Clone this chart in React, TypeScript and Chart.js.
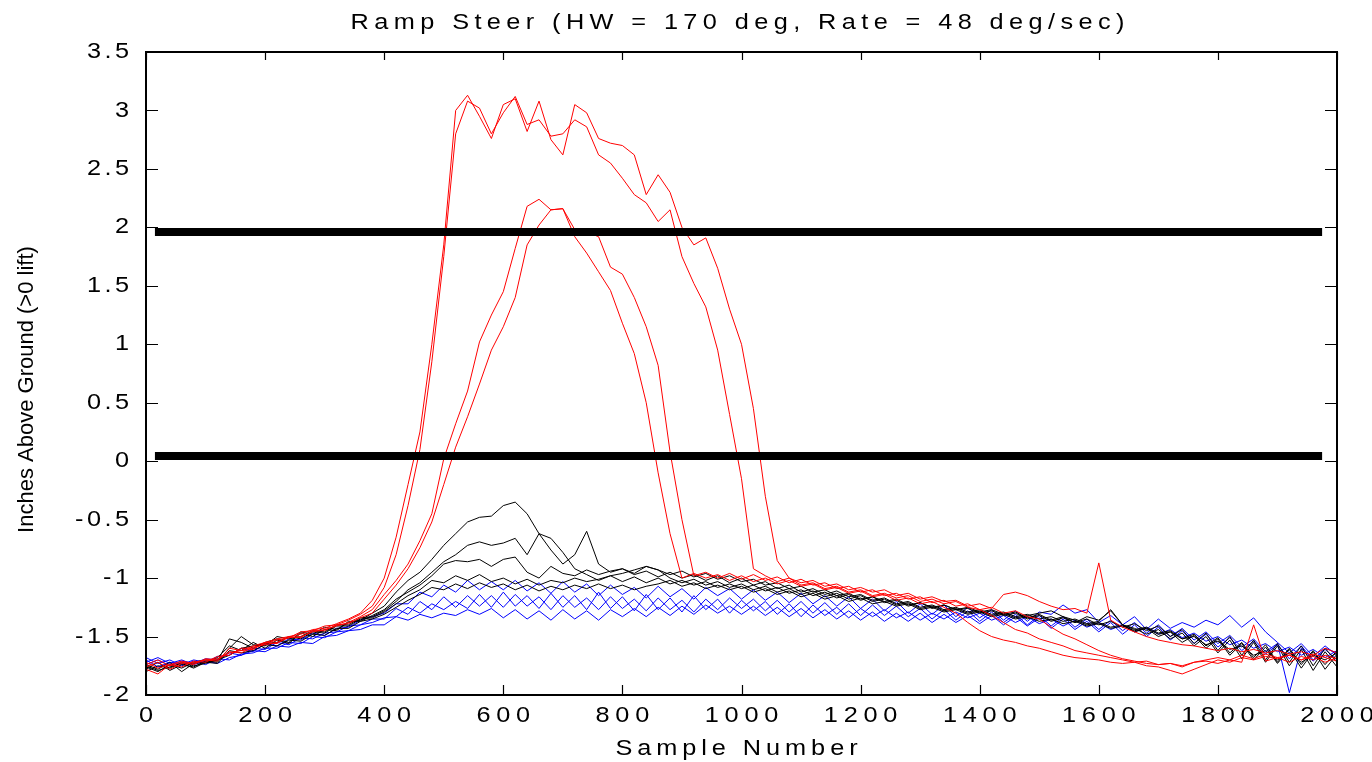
import React, { useEffect, useRef } from 'react';
import { Chart, registerables } from 'chart.js';

Chart.register(...registerables);

// ---------- data ----------
const SAMPLES = [
  0, 20, 40, 60, 80, 100, 120, 140, 160, 180,
  200, 220, 240, 260, 280, 300, 320, 340, 360, 380,
  400, 420, 440, 460, 480, 500, 520, 540, 560, 580,
  600, 620, 640, 660, 680, 700, 720, 740, 760, 780,
  800, 820, 840, 860, 880, 900, 920, 940, 960, 980,
  1000, 1020, 1040, 1060, 1080, 1100, 1120, 1140, 1160, 1180,
  1200, 1220, 1240, 1260, 1280, 1300, 1320, 1340, 1360, 1380,
  1400, 1420, 1440, 1460, 1480, 1500, 1520, 1540, 1560, 1580,
  1600, 1620, 1640, 1660, 1680, 1700, 1720, 1740, 1760, 1780,
  1800, 1820, 1840, 1860, 1880, 1900, 1920, 1940, 1960, 1980,
  2000,
];

const RED_1 = [
  -1.76, -1.72, -1.78, -1.73, -1.72, -1.70, -1.69, -1.64, -1.62, -1.58,
  -1.55, -1.52, -1.50, -1.48, -1.44, -1.43, -1.39, -1.35, -1.30, -1.19,
  -1.00, -0.65, -0.20, 0.25, 1.00, 1.85, 3.00, 3.13, 2.95, 2.76,
  3.05, 3.10, 2.82, 3.08, 2.75, 2.62, 3.05, 2.98, 2.76, 2.72,
  2.70, 2.62, 2.28, 2.45, 2.30, 2.00, 1.85, 1.91, 1.65, 1.30,
  1.00, 0.45, -0.30, -0.85, -1.00, -1.04, -1.02, -1.07, -1.05, -1.10,
  -1.08, -1.12, -1.10, -1.15, -1.13, -1.18, -1.16, -1.20, -1.19, -1.24,
  -1.22, -1.26, -1.14, -1.12, -1.15, -1.20, -1.24, -1.27, -1.26, -1.30,
  -0.87, -1.36, -1.42, -1.46, -1.50, -1.53, -1.55, -1.57, -1.58, -1.60,
  -1.62, -1.60, -1.63, -1.61, -1.64, -1.62, -1.65, -1.63, -1.66, -1.60,
  -1.64,
];
const RED_2 = [
  -1.72, -1.77, -1.74, -1.76, -1.71, -1.72, -1.67, -1.66, -1.60, -1.60,
  -1.56, -1.53, -1.51, -1.46, -1.45, -1.41, -1.40, -1.36, -1.31, -1.24,
  -1.08, -0.80, -0.38, 0.10, 0.85, 1.75, 2.80, 3.08, 3.02, 2.80,
  2.98, 3.12, 2.88, 2.92, 2.78, 2.80, 2.92, 2.86, 2.62, 2.55,
  2.42, 2.28, 2.21, 2.05, 2.15, 1.75, 1.52, 1.32, 0.95, 0.40,
  -0.15, -0.92, -0.98, -1.03, -1.00, -1.06, -1.04, -1.09, -1.07, -1.12,
  -1.10, -1.15, -1.13, -1.17, -1.15, -1.20, -1.18, -1.22, -1.20, -1.25,
  -1.27, -1.32, -1.38, -1.44, -1.47, -1.52, -1.55, -1.58, -1.62, -1.64,
  -1.66, -1.68, -1.70, -1.72, -1.71, -1.74, -1.73, -1.76, -1.72, -1.70,
  -1.68, -1.70, -1.66, -1.69, -1.65, -1.68, -1.66, -1.70, -1.65, -1.68,
  -1.71,
];
const RED_3 = [
  -1.74, -1.70, -1.75, -1.72, -1.74, -1.69, -1.70, -1.63, -1.64, -1.59,
  -1.57, -1.55, -1.51, -1.50, -1.46, -1.44, -1.41, -1.38, -1.33, -1.27,
  -1.14, -1.02, -0.88, -0.68, -0.45, 0.02, 0.32, 0.60, 1.02, 1.25,
  1.45, 1.82, 2.18, 2.24, 2.15, 2.16, 1.92, 1.78, 1.62, 1.46,
  1.18, 0.92, 0.50, -0.10, -0.62, -1.00, -0.96, -1.00, -0.97, -1.02,
  -0.98, -1.03, -1.00, -1.05, -1.02, -1.07, -1.05, -1.10, -1.08, -1.13,
  -1.11, -1.16, -1.14, -1.19, -1.17, -1.22, -1.20, -1.25, -1.30, -1.38,
  -1.45, -1.50, -1.53, -1.55, -1.58, -1.60, -1.63, -1.66, -1.68, -1.69,
  -1.70, -1.72, -1.73, -1.72, -1.75, -1.76, -1.79, -1.82, -1.78, -1.74,
  -1.70, -1.72, -1.68, -1.70, -1.67, -1.69, -1.66, -1.70, -1.67, -1.72,
  -1.68,
];
const RED_4 = [
  -1.78, -1.82, -1.74, -1.71, -1.73, -1.70, -1.71, -1.60, -1.62, -1.61,
  -1.55, -1.56, -1.50, -1.51, -1.45, -1.45, -1.40, -1.39, -1.34, -1.30,
  -1.18, -1.06, -0.92, -0.74, -0.52, -0.20, 0.12, 0.38, 0.66, 0.95,
  1.15, 1.40, 1.85, 2.02, 2.15, 2.16, 1.98, 1.96, 1.92, 1.66,
  1.60, 1.40, 1.15, 0.82, 0.08, -0.50, -0.98, -0.95, -1.00, -0.96,
  -1.01, -0.97, -1.02, -0.99, -1.04, -1.01, -1.06, -1.04, -1.09, -1.07,
  -1.12, -1.10, -1.15, -1.13, -1.18, -1.16, -1.21, -1.19, -1.24, -1.22,
  -1.27, -1.25, -1.30, -1.28, -1.33, -1.35, -1.42, -1.48, -1.52, -1.57,
  -1.62, -1.66, -1.69, -1.71, -1.73, -1.74, -1.73, -1.75, -1.72, -1.71,
  -1.73, -1.70, -1.72, -1.40, -1.71, -1.68, -1.72, -1.67, -1.70, -1.66,
  -1.69,
];

const BLACK_1 = [
  -1.76, -1.80, -1.74, -1.77, -1.72, -1.70, -1.71, -1.52, -1.55, -1.60,
  -1.55, -1.52, -1.55, -1.46, -1.48, -1.42, -1.44, -1.38, -1.36, -1.30,
  -1.24, -1.12, -1.02, -0.95, -0.84, -0.72, -0.62, -0.52, -0.48, -0.47,
  -0.38, -0.35, -0.45, -0.62, -0.66, -0.78, -0.92, -0.97, -1.02, -0.98,
  -1.03, -0.99, -1.04, -1.00, -1.05, -1.02, -1.06, -1.03, -1.08, -1.05,
  -1.09, -1.06, -1.11, -1.08, -1.13, -1.10, -1.15, -1.12, -1.17, -1.14,
  -1.19, -1.16, -1.21, -1.19, -1.24, -1.21, -1.26, -1.23, -1.27, -1.25,
  -1.29, -1.27, -1.31, -1.29, -1.34, -1.31, -1.36, -1.33, -1.38, -1.35,
  -1.40, -1.37, -1.42, -1.39, -1.45, -1.41, -1.50, -1.44, -1.56, -1.47,
  -1.62, -1.50, -1.66, -1.53, -1.70, -1.56, -1.72, -1.58, -1.75, -1.60,
  -1.72,
];
const BLACK_2 = [
  -1.78, -1.72, -1.79, -1.74, -1.76, -1.71, -1.72, -1.60, -1.50, -1.57,
  -1.58, -1.50, -1.52, -1.50, -1.45, -1.46, -1.40, -1.40, -1.34, -1.33,
  -1.28, -1.20, -1.10, -1.04, -0.95, -0.86, -0.80, -0.72, -0.69, -0.72,
  -0.70, -0.66, -0.80, -0.62, -0.76, -0.88, -0.80, -0.60, -0.88, -0.95,
  -0.92, -0.97, -0.94, -0.99, -0.95, -1.00, -0.97, -1.02, -0.98, -1.04,
  -1.00, -1.06, -1.03, -1.09, -1.06, -1.12, -1.09, -1.14, -1.11, -1.16,
  -1.14, -1.19, -1.17, -1.22, -1.20, -1.25, -1.23, -1.27, -1.25, -1.29,
  -1.27, -1.31, -1.29, -1.33, -1.31, -1.35, -1.33, -1.37, -1.35, -1.39,
  -1.37, -1.27, -1.40, -1.44, -1.42, -1.47, -1.45, -1.52, -1.48, -1.58,
  -1.51, -1.64, -1.55, -1.68, -1.57, -1.72, -1.60, -1.74, -1.62, -1.78,
  -1.65,
];
const BLACK_3 = [
  -1.74, -1.78, -1.72, -1.80, -1.73, -1.72, -1.68, -1.58, -1.62, -1.55,
  -1.60, -1.53, -1.56, -1.47, -1.50, -1.44, -1.45, -1.37, -1.37, -1.32,
  -1.27, -1.18, -1.12, -1.06, -0.98, -0.88, -0.85, -0.86, -0.84, -0.90,
  -0.84, -0.82, -0.95, -1.00, -0.90, -0.96, -0.98, -0.93, -0.97, -0.94,
  -0.92, -0.96, -0.90, -0.93, -0.97, -0.94, -0.99, -0.96, -1.01, -0.98,
  -1.03, -1.01, -1.06, -1.04, -1.09, -1.07, -1.12, -1.10, -1.15, -1.13,
  -1.18, -1.16, -1.20, -1.18, -1.23, -1.21, -1.25, -1.23, -1.27, -1.26,
  -1.30, -1.28, -1.32, -1.30, -1.35, -1.32, -1.37, -1.34, -1.38, -1.33,
  -1.36, -1.28, -1.40, -1.43, -1.48, -1.44, -1.52, -1.47, -1.58, -1.50,
  -1.64, -1.53, -1.69, -1.55, -1.72, -1.58, -1.75, -1.61, -1.79, -1.63,
  -1.76,
];
const BLACK_4 = [
  -1.80, -1.75, -1.77, -1.72, -1.75, -1.73, -1.70, -1.66, -1.60, -1.58,
  -1.56, -1.55, -1.50, -1.52, -1.46, -1.47, -1.41, -1.41, -1.35, -1.34,
  -1.29, -1.22, -1.15, -1.10, -1.02, -1.04, -0.98, -1.02, -0.97, -1.03,
  -1.00, -1.05, -1.01, -1.06, -1.02, -1.04, -1.00, -1.03, -1.01, -0.98,
  -0.96, -0.93, -0.90, -0.93, -1.00, -1.04, -1.01, -1.06, -1.03, -1.08,
  -1.05, -1.10, -1.07, -1.12, -1.09, -1.14, -1.11, -1.16, -1.13, -1.18,
  -1.15, -1.20, -1.18, -1.23, -1.21, -1.26, -1.24, -1.28, -1.26, -1.30,
  -1.28, -1.32, -1.30, -1.34, -1.32, -1.30, -1.28, -1.33, -1.36, -1.40,
  -1.38, -1.42, -1.40, -1.46, -1.43, -1.50, -1.46, -1.55, -1.49, -1.60,
  -1.52, -1.66, -1.56, -1.70, -1.59, -1.73, -1.61, -1.77, -1.63, -1.74,
  -1.62,
];
const BLACK_5 = [
  -1.75, -1.79, -1.76, -1.73, -1.77, -1.72, -1.73, -1.62, -1.64, -1.62,
  -1.57, -1.58, -1.53, -1.54, -1.48, -1.49, -1.43, -1.43, -1.37, -1.35,
  -1.31, -1.25, -1.19, -1.14, -1.08, -1.10, -1.05, -1.09, -1.04, -1.08,
  -1.05, -1.10, -1.06, -1.11, -1.07, -1.10, -1.06, -1.09, -1.05, -1.09,
  -1.06, -1.10, -1.07, -1.05, -1.02, -1.07, -1.04, -1.09, -1.06, -1.10,
  -1.07, -1.12, -1.09, -1.14, -1.11, -1.16, -1.13, -1.18, -1.15, -1.20,
  -1.17, -1.22, -1.20, -1.24, -1.22, -1.27, -1.25, -1.29, -1.27, -1.31,
  -1.29, -1.33, -1.31, -1.35, -1.33, -1.37, -1.35, -1.39, -1.37, -1.41,
  -1.39, -1.43, -1.41, -1.45, -1.43, -1.48, -1.46, -1.52, -1.50, -1.57,
  -1.54, -1.61, -1.58, -1.66, -1.62, -1.70, -1.64, -1.72, -1.66, -1.70,
  -1.64,
];

const BLUE_1 = [
  -1.70, -1.76, -1.72, -1.74, -1.70, -1.72, -1.67, -1.66, -1.60, -1.63,
  -1.56, -1.58, -1.52, -1.53, -1.47, -1.49, -1.43, -1.42, -1.36, -1.33,
  -1.30, -1.22, -1.22, -1.12, -1.16, -1.06, -1.12, -1.02, -1.10, -1.03,
  -1.10, -1.02, -1.11, -1.04, -1.13, -1.03, -1.12, -1.05, -1.15, -1.06,
  -1.14, -1.08, -1.17, -1.07, -1.16, -1.09, -1.18, -1.08, -1.15, -1.09,
  -1.18, -1.10, -1.19, -1.12, -1.21, -1.13, -1.22, -1.15, -1.24, -1.16,
  -1.26, -1.18, -1.28, -1.20, -1.30, -1.22, -1.31, -1.23, -1.33, -1.25,
  -1.34, -1.27, -1.36, -1.28, -1.37, -1.29, -1.31, -1.23, -1.30, -1.27,
  -1.38, -1.32, -1.40, -1.33, -1.44, -1.35, -1.43, -1.38, -1.42, -1.36,
  -1.40, -1.32, -1.42, -1.34, -1.46, -1.55, -1.64, -1.56, -1.67, -1.58,
  -1.66,
];
const BLUE_2 = [
  -1.74, -1.70, -1.75, -1.71, -1.73, -1.69, -1.70, -1.64, -1.66, -1.60,
  -1.61, -1.55, -1.57, -1.51, -1.52, -1.47, -1.46, -1.41, -1.40, -1.35,
  -1.35, -1.26, -1.31, -1.20, -1.27, -1.16, -1.25, -1.15, -1.24, -1.15,
  -1.25, -1.14, -1.24, -1.16, -1.27, -1.15, -1.25, -1.17, -1.27, -1.16,
  -1.26, -1.18, -1.28, -1.17, -1.27, -1.19, -1.29, -1.18, -1.27, -1.17,
  -1.26, -1.18, -1.28, -1.19, -1.29, -1.20, -1.30, -1.21, -1.31, -1.22,
  -1.32, -1.23, -1.32, -1.24, -1.33, -1.26, -1.35, -1.27, -1.36, -1.28,
  -1.37, -1.29, -1.38, -1.31, -1.40, -1.32, -1.41, -1.33, -1.42, -1.35,
  -1.44, -1.36, -1.45, -1.38, -1.47, -1.40, -1.50, -1.43, -1.53, -1.46,
  -1.56, -1.49, -1.59, -1.52, -1.63, -1.56, -1.98, -1.60, -1.71, -1.61,
  -1.70,
];
const BLUE_3 = [
  -1.72, -1.68, -1.73, -1.70, -1.74, -1.71, -1.73, -1.68, -1.66, -1.62,
  -1.63, -1.58, -1.59, -1.55, -1.56, -1.50, -1.49, -1.45, -1.44, -1.40,
  -1.40, -1.33, -1.36, -1.31, -1.34, -1.30, -1.32, -1.27, -1.31, -1.26,
  -1.34, -1.27, -1.35, -1.28, -1.36, -1.27, -1.35, -1.28, -1.36, -1.27,
  -1.33, -1.26, -1.33, -1.25, -1.32, -1.24, -1.31, -1.23, -1.30, -1.24,
  -1.31, -1.24, -1.32, -1.25, -1.33, -1.26, -1.34, -1.27, -1.35, -1.28,
  -1.36, -1.29, -1.37, -1.30, -1.37, -1.30, -1.38, -1.31, -1.38, -1.32,
  -1.39, -1.32, -1.40, -1.33, -1.41, -1.34, -1.43, -1.35, -1.44, -1.37,
  -1.46, -1.38, -1.48, -1.40, -1.50, -1.42, -1.53, -1.45, -1.56, -1.48,
  -1.59, -1.51, -1.62, -1.54, -1.65, -1.57, -1.69, -1.58, -1.70, -1.60,
  -1.64,
];
const BLUE_4 = [
  -1.68, -1.73, -1.70, -1.75, -1.71, -1.74, -1.69, -1.70, -1.65, -1.64,
  -1.60, -1.60, -1.55, -1.56, -1.50, -1.51, -1.46, -1.45, -1.40, -1.38,
  -1.34, -1.33, -1.25, -1.30, -1.22, -1.27, -1.20, -1.26, -1.14, -1.25,
  -1.12, -1.24, -1.15, -1.26, -1.13, -1.25, -1.15, -1.27, -1.12, -1.26,
  -1.16, -1.28, -1.14, -1.27, -1.17, -1.29, -1.15, -1.27, -1.18, -1.30,
  -1.19, -1.28, -1.20, -1.31, -1.22, -1.33, -1.23, -1.32, -1.25, -1.34,
  -1.26, -1.33, -1.27, -1.34, -1.29, -1.36, -1.30, -1.35, -1.29, -1.34,
  -1.30, -1.36, -1.32, -1.38, -1.33, -1.39, -1.35, -1.41, -1.36, -1.42,
  -1.38, -1.44, -1.40, -1.46, -1.42, -1.48, -1.44, -1.51, -1.47, -1.54,
  -1.50, -1.57, -1.53, -1.60, -1.56, -1.63, -1.59, -1.66, -1.61, -1.68,
  -1.62,
];

// two thick reference levels and the span they cover
const REF_LEVELS = [1.96, 0.045];
const REF_SPAN = [15, 1975];

const X_TICKS = [0, 200, 400, 600, 800, 1000, 1200, 1400, 1600, 1800, 2000];
const Y_TICKS = [-2, -1.5, -1, -0.5, 0, 0.5, 1, 1.5, 2, 2.5, 3, 3.5];
const Y_TICK_LABELS = ['-2', '-1.5', '-1', '-0.5', '0', '0.5', '1', '1.5', '2', '2.5', '3', '3.5'];

const TITLE = 'Ramp Steer (HW = 170 deg, Rate = 48 deg/sec)';
const X_TITLE = 'Sample Number';
const Y_TITLE = 'Inches Above Ground (>0 lift)';

const RED_SERIES = [RED_1, RED_2, RED_3, RED_4];
const BLACK_SERIES = [BLACK_1, BLACK_2, BLACK_3, BLACK_4, BLACK_5];
const BLUE_SERIES = [BLUE_1, BLUE_2, BLUE_3, BLUE_4];

const FONT = '"Liberation Sans", Arial, Helvetica, sans-serif';

function drawLabel(
  ctx: CanvasRenderingContext2D,
  text: string,
  x: number,
  y: number,
  size: number,
  spacing: number,
  align: 'left' | 'center' | 'right',
  baseline: CanvasTextBaseline,
  sx = 1.15,
) {
  ctx.save();
  ctx.font = `${size}px ${FONT}`;
  (ctx as any).letterSpacing = `${spacing}px`;
  ctx.textAlign = 'left';
  ctx.textBaseline = baseline;
  const w = (ctx.measureText(text).width - spacing) * sx;
  let left = x;
  if (align === 'center') left = x - w / 2;
  else if (align === 'right') left = x - w;
  ctx.translate(left, y);
  ctx.scale(sx, 1);
  ctx.fillStyle = '#000';
  ctx.fillText(text, 0, 0);
  ctx.restore();
}

const framePlugin = {
  id: 'frame',
  afterDraw(chart: any) {
    const { ctx, chartArea: a } = chart;
    const xs = chart.scales.x;
    const ys = chart.scales.y;
    ctx.save();
    ctx.strokeStyle = '#000';
    ctx.lineWidth = 2;
    ctx.strokeRect(a.left, a.top, a.right - a.left, a.bottom - a.top);

    ctx.lineWidth = 1.2;
    ctx.beginPath();
    X_TICKS.forEach((v) => {
      const px = Math.round(xs.getPixelForValue(v)) + 0.5;
      ctx.moveTo(px, a.bottom);
      ctx.lineTo(px, a.bottom - 10);
      ctx.moveTo(px, a.top);
      ctx.lineTo(px, a.top + 8);
    });
    Y_TICKS.forEach((v) => {
      const py = Math.round(ys.getPixelForValue(v)) + 0.5;
      ctx.moveTo(a.left, py);
      ctx.lineTo(a.left + 12, py);
      ctx.moveTo(a.right, py);
      ctx.lineTo(a.right - 12, py);
    });
    ctx.stroke();
    ctx.restore();

    X_TICKS.forEach((v) => {
      drawLabel(ctx, String(v), xs.getPixelForValue(v), a.bottom + 21, 22, 5, 'center', 'middle');
    });
    Y_TICKS.forEach((v, i) => {
      drawLabel(ctx, Y_TICK_LABELS[i], a.left - 17, ys.getPixelForValue(v), 22, 3, 'right', 'middle');
    });

    drawLabel(ctx, TITLE, (a.left + a.right) / 2 - 4, 29, 22, 4.7, 'center', 'alphabetic');
    drawLabel(ctx, X_TITLE, (a.left + a.right) / 2 - 5, 755, 22, 4.3, 'center', 'alphabetic');

    ctx.save();
    ctx.translate(33, (a.top + a.bottom) / 2 + 16);
    ctx.rotate(-Math.PI / 2);
    ctx.font = `22px ${FONT}`;
    ctx.textAlign = 'center';
    ctx.textBaseline = 'alphabetic';
    ctx.fillStyle = '#000';
    ctx.fillText(Y_TITLE, 0, 0);
    ctx.restore();
  },
};

function series(values: number[], color: string) {
  return {
    data: SAMPLES.map((s, i) => ({ x: s, y: values[i] })),
    borderColor: color,
    borderWidth: 1,
    pointRadius: 0,
    tension: 0,
    fill: false,
  };
}

export default function App() {
  const ref = useRef<HTMLCanvasElement>(null);

  useEffect(() => {
    if (!ref.current) return;
    const refSets = REF_LEVELS.map((lvl) => ({
      data: REF_SPAN.map((s) => ({ x: s, y: lvl })),
      borderColor: '#000',
      borderWidth: 8,
      borderCapStyle: 'butt' as const,
      pointRadius: 0,
      fill: false,
    }));
    const datasets = [
      ...refSets,
      ...RED_SERIES.map((v) => series(v, '#ff0000')),
      ...BLACK_SERIES.map((v) => series(v, '#000000')),
      ...BLUE_SERIES.map((v) => series(v, '#0000ff')),
    ];
    const chart = new Chart(ref.current, {
      type: 'line',
      data: { datasets },
      options: {
        animation: false,
        responsive: false,
        events: [],
        layout: { padding: { left: 146, top: 52, right: 35, bottom: 67 } },
        plugins: {
          legend: { display: false },
          title: { display: false },
          tooltip: { enabled: false },
        },
        scales: {
          x: { type: 'linear', min: 0, max: 2000, display: false },
          y: { type: 'linear', min: -2, max: 3.5, display: false },
        },
      },
      plugins: [framePlugin],
    } as any);
    return () => chart.destroy();
  }, []);

  return (
    <div style={{ position: 'absolute', left: 0, top: 0, width: 1372, height: 762, background: '#fff' }}>
      <canvas ref={ref} width={1372} height={762} style={{ display: 'block' }} />
    </div>
  );
}
